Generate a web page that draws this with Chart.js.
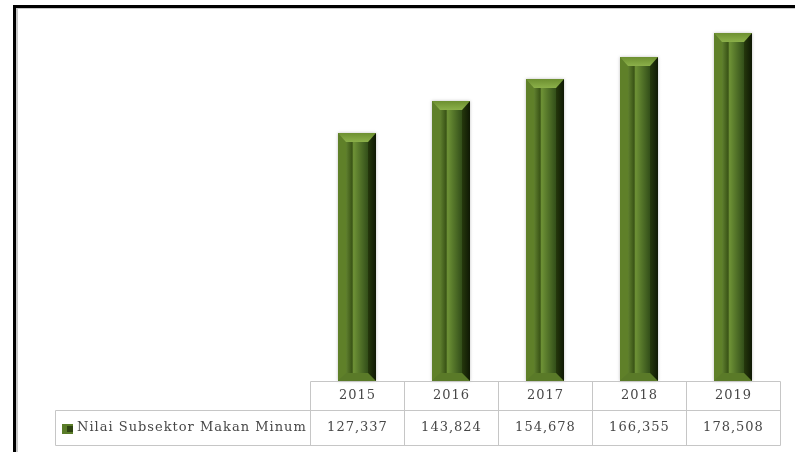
<!DOCTYPE html>
<html>
<head>
<meta charset="utf-8">
<script src="https://cdn.jsdelivr.net/npm/chart.js@4"></script>
<style>
  html, body { margin: 0; padding: 0; background: #fff; }
  #wrap { width: 795px; height: 452px; }
</style>
</head>
<body>
<div id="wrap"><canvas id="grafik" width="795" height="452"></canvas></div>
<script>
// data
var tahun = ['2015', '2016', '2017', '2018', '2019'];
var nilai = [127337, 143824, 154678, 166355, 178508];
var namaSeri = 'Nilai Subsektor Makan Minum';

var fonte = '13px "DejaVu Serif", serif';
var garisTabel = '#c6c6c6';

function fmt(v) {
    return v.toLocaleString('en-US');
}

// frame (black border, top + left)
const bingkai = {
    id: 'bingkai',
    beforeDraw(chart) {
        const ctx = chart.ctx;
        ctx.save();
        ctx.fillStyle = '#fff';
        ctx.fillRect(0, 0, chart.width, chart.height);
        ctx.fillStyle = '#c8c8c8';
        ctx.fillRect(16, 8, 2, chart.height);
        ctx.fillRect(16, 8, chart.width, 1);
        ctx.fillStyle = '#000';
        ctx.fillRect(13, 5, chart.width, 3);
        ctx.fillRect(13, 5, 3, chart.height);
        ctx.restore();
    }
};

// bevel bars
function bevel(ctx, L, R, T, B) {
    const w = R - L;
    const b = Math.min(8, w / 4.5);
    const bt = b + 1;
    // body
    let g = ctx.createLinearGradient(L, 0, R, 0);
    g.addColorStop(0, '#587826');
    g.addColorStop(0.2, '#628330');
    g.addColorStop(0.37, '#3a5416');
    g.addColorStop(0.41, '#6e9236');
    g.addColorStop(0.56, '#56772a');
    g.addColorStop(0.78, '#34501a');
    g.addColorStop(1, '#141f06');
    ctx.save();
    ctx.shadowColor = 'rgba(0,0,0,0.25)';
    ctx.shadowBlur = 3;
    ctx.fillStyle = g;
    ctx.fillRect(L, T, w, B - T);
    ctx.restore();

    // left bevel
    ctx.fillStyle = '#5f8029';
    ctx.beginPath();
    ctx.moveTo(L, T); ctx.lineTo(L + b, T + bt); ctx.lineTo(L + b, B - b); ctx.lineTo(L, B);
    ctx.closePath(); ctx.fill();

    // right bevel
    let gr = ctx.createLinearGradient(R - b, 0, R, 0);
    gr.addColorStop(0, '#25380c');
    gr.addColorStop(1, '#0f1804');
    ctx.fillStyle = gr;
    ctx.beginPath();
    ctx.moveTo(R, T); ctx.lineTo(R - b, T + bt); ctx.lineTo(R - b, B - b); ctx.lineTo(R, B);
    ctx.closePath(); ctx.fill();

    // top cap
    let gt = ctx.createLinearGradient(0, T, 0, T + bt);
    gt.addColorStop(0, '#6c8f30');
    gt.addColorStop(1, '#8cb04a');
    ctx.fillStyle = gt;
    ctx.beginPath();
    ctx.moveTo(L, T); ctx.lineTo(R, T); ctx.lineTo(R - b, T + bt); ctx.lineTo(L + b, T + bt);
    ctx.closePath(); ctx.fill();

    // bottom cap
    ctx.fillStyle = '#5a7a28';
    ctx.beginPath();
    ctx.moveTo(L, B); ctx.lineTo(R, B); ctx.lineTo(R - b, B - b); ctx.lineTo(L + b, B - b);
    ctx.closePath(); ctx.fill();
}

const batangBevel = {
    id: 'batangBevel',
    afterDatasetsDraw(chart) {
        const ctx = chart.ctx;
        const meta = chart.getDatasetMeta(0);
        meta.data.forEach(function (el) {
            const p = el.getProps(['x', 'y', 'base', 'width'], true);
            bevel(ctx, Math.round(p.x - p.width / 2), Math.round(p.x + p.width / 2), Math.round(p.y), Math.round(p.base));
        });
    }
};

// data table under the chart
const tabelData = {
    id: 'tabelData',
    afterDraw(chart) {
        const ctx = chart.ctx;
        const xs = chart.scales.x;
        const area = chart.chartArea;
        const n = tahun.length;
        const step = (area.right - area.left) / n;
        const y0 = area.bottom + 0.5, y1 = y0 + 29, y2 = y1 + 35;
        const kiri = 55.5;
        ctx.save();
        ctx.strokeStyle = garisTabel;
        ctx.lineWidth = 1;
        ctx.beginPath();
        ctx.moveTo(area.left + 0.5, y0); ctx.lineTo(area.right + 0.5, y0);
        ctx.moveTo(kiri, y1); ctx.lineTo(area.right + 0.5, y1);
        ctx.moveTo(kiri, y2); ctx.lineTo(area.right + 0.5, y2);
        ctx.moveTo(kiri, y1); ctx.lineTo(kiri, y2);
        for (let i = 0; i <= n; i++) {
            const x = Math.round(area.left + i * step) + 0.5;
            ctx.moveTo(x, y0); ctx.lineTo(x, y2);
        }
        ctx.stroke();

        ctx.font = fonte;
        ctx.letterSpacing = '1px';
        ctx.fillStyle = '#474747';
        ctx.textAlign = 'center';
        ctx.textBaseline = 'middle';
        for (let i = 0; i < n; i++) {
            const cx = xs.getPixelForValue(i) + 0.5;
            ctx.fillText(tahun[i], cx, (y0 + y1) / 2);
            ctx.fillText(fmt(nilai[i]), cx, (y1 + y2) / 2);
        }
        // legend key + series name
        ctx.fillStyle = '#5a7c28';
        ctx.fillRect(62, 424, 11, 10);
        ctx.fillStyle = '#2f4512';
        ctx.fillRect(67, 426, 6, 6);
        ctx.fillStyle = '#474747';
        ctx.textAlign = 'left';
        ctx.fillText(namaSeri, 77, (y1 + y2) / 2);
        ctx.restore();
    }
};

const grafik = new Chart(document.getElementById('grafik'), {
    type: 'bar',
    data: {
        labels: tahun,
        datasets: [{
            label: namaSeri,
            data: nilai,
            backgroundColor: 'rgba(0,0,0,0)',
            borderWidth: 0,
            categoryPercentage: 1,
            barPercentage: 0.394
        }]
    },
    options: {
        responsive: false,
        animation: false,
        layout: { padding: { left: 310, right: 15, top: 30, bottom: 71 } },
        plugins: {
            legend: { display: false },
            tooltip: { enabled: false }
        },
        scales: {
            x: { display: false },
            y: { display: false, min: 0, max: 180000 }
        }
    },
    plugins: [bingkai, batangBevel, tabelData]
});
</script>
</body>
</html>
